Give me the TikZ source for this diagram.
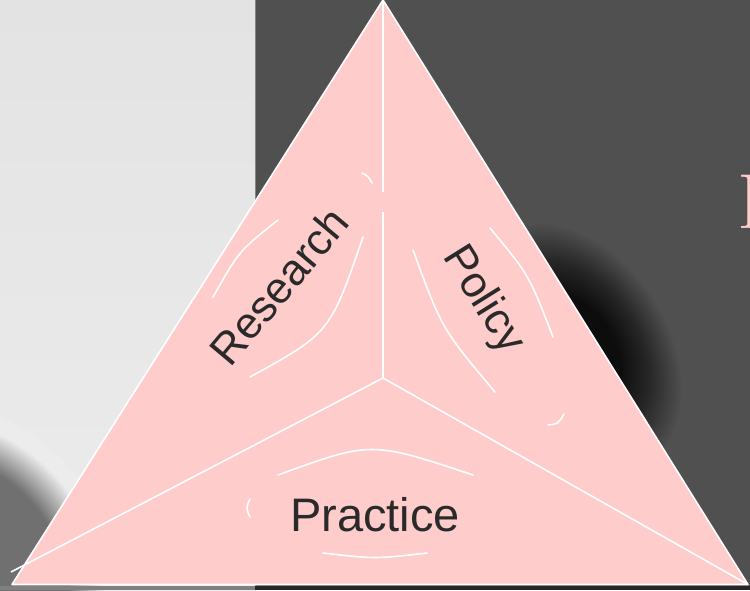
\documentclass[tikz,border=0pt]{standalone}
\usepackage{fontspec}
\newfontfamily\labfont{Liberation Sans}
\definecolor{pinkfill}{HTML}{FFCCCC}
\definecolor{darkbg}{HTML}{505050}
\definecolor{lightbgtop}{HTML}{E3E3E3}
\definecolor{lightbgbot}{HTML}{ECECEC}
\definecolor{labtext}{HTML}{2A2A2A}
\definecolor{blobgray}{HTML}{707070}
\definecolor{shcore}{HTML}{0D0D0D}
\definecolor{shmid}{HTML}{262626}
\definecolor{stripL}{HTML}{808080}
\definecolor{stripR}{HTML}{262626}
\definecolor{seamgray}{HTML}{858585}
\pgfdeclareradialshading{shadowR}{\pgfpointorigin}{color(0bp)=(shcore); color(10bp)=(shcore); color(16bp)=(shmid); color(23bp)=(darkbg); color(50bp)=(darkbg)}
\pgfdeclareradialshading{blobL}{\pgfpointorigin}{color(0bp)=(blobgray); color(18.5bp)=(blobgray); color(23bp)=(lightbgbot); color(50bp)=(lightbgbot)}
\tikzset{
  wline/.style={draw=white, line width=1.6pt},
  arcline/.style={draw=white, line width=1.6pt, line cap=round},
  lab/.style={font=\labfont\fontsize{44}{44}\selectfont, text=labtext, inner sep=0pt},
}
\begin{document}
\begin{tikzpicture}[x=1pt,y=-1pt]
\useasboundingbox (0,0) rectangle (750,590);
% backgrounds
\shade[top color=lightbgtop, bottom color=lightbgbot] (0,0) rectangle (255.5,590);
\fill[darkbg] (255.5,0) rectangle (750,590);
\draw[seamgray, line width=1pt] (255.5,0) -- (255.5,590);
% bottom-left blob
\begin{scope}
\clip (0,0) rectangle (255,590);
\shade[shading=blobL] (-80,600) circle (200);
\end{scope}
% right shadow
\begin{scope}
\clip (256,0) rectangle (750,590);
\begin{scope}[transform canvas={shift={(572,350)}, rotate=-58}]
\shade[shading=shadowR] (0,0) ellipse [x radius=150, y radius=105];
\end{scope}
\end{scope}
% bottom strip
\fill[stripL] (0,586) rectangle (255,590);
\fill[stripR] (255,586) rectangle (750,590);
% triangle
\coordinate (apex) at (383,0);
\coordinate (bl) at (12,584.5);
\coordinate (br) at (748,584.5);
\coordinate (ctr) at (383,378);
\coordinate (blEnd) at (11,572);
\coordinate (gapLo) at (383,212);
\coordinate (gapHi) at (383,192);
\fill[pinkfill] (apex) -- (bl) -- (br) -- cycle;
\draw[wline, line join=round] (apex) -- (bl) -- (br) -- cycle;
\draw[wline] (ctr) -- (blEnd);
\draw[wline] (ctr) -- (br);
\draw[wline] (ctr) -- (gapLo);
\draw[wline] (gapHi) -- (apex);
% decorative arcs
\draw[arcline] (213,297) .. controls (239,251) .. (278,220);
\draw[arcline] (250,377) .. controls (330,333) .. (363,237);
\draw[arcline] (362,173) .. controls (368,176) .. (372,183);
\draw[arcline] (413,250) .. controls (442,329) .. (495,392);
\draw[arcline] (490,228) .. controls (529,275) .. (553,337);
\draw[arcline] (548,425) .. controls (558,424) .. (564,414);
\draw[arcline] (278,475) .. controls (371,441) .. (473,475);
\draw[arcline] (323,553) .. controls (375,559) .. (427,553);
\draw[arcline] (250,499) .. controls (246,508) .. (250,517);
% labels
\node[lab, rotate=50] (research) at (279,286) {Research};
\node[lab, rotate=-58] (policy) at (483,300) {Policy};
\node[lab, font=\labfont\fontsize{47}{47}\selectfont] (practice) at (375,515) {Practice};
% cut-off title letter
\node[anchor=base west, inner sep=0pt, text=pinkfill, font=\fontsize{78}{78}\selectfont] (ptitle) at (737,228) {P};
\end{tikzpicture}
\end{document}
